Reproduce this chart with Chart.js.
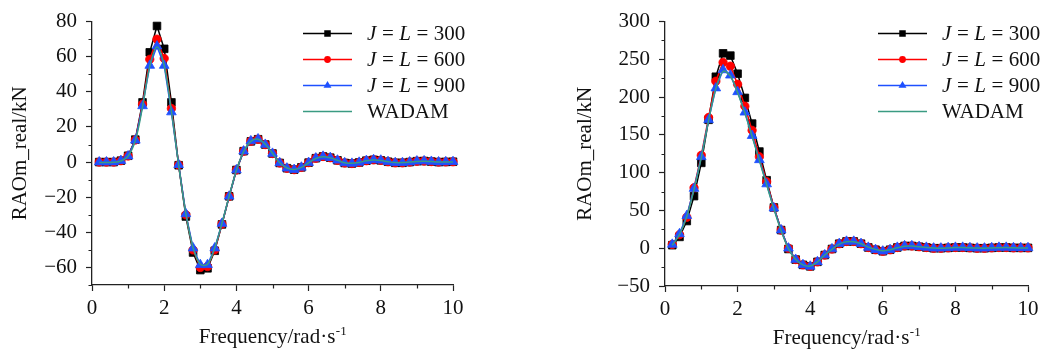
<!DOCTYPE html>
<html><head><meta charset="utf-8">
<script src="https://cdn.jsdelivr.net/npm/chart.js@4.4.0/dist/chart.umd.min.js"></script>
<style>
html,body{margin:0;padding:0;background:#fff;}
#wrap{position:relative;width:1047px;height:349px;overflow:hidden;}
.box{position:absolute;top:0;height:349px;}
#b1{left:0;width:523px;}
#b2{left:523px;width:524px;}
</style></head><body>
<div id="wrap">
  <div class="box" id="b1"><canvas id="c1"></canvas></div>
  <div class="box" id="b2"><canvas id="c2"></canvas></div>
</div>
<script>
// ---------- data ----------
const freq = [0.2,0.4,0.6,0.8,1.0,1.2,1.4,1.6,1.8,2.0,2.2,2.4,2.6,2.8,3.0,3.2,3.4,3.6,3.8,4.0,
  4.2,4.4,4.6,4.8,5.0,5.2,5.4,5.6,5.8,6.0,6.2,6.4,6.6,6.8,7.0,7.2,7.4,7.6,7.8,8.0,
  8.2,8.4,8.6,8.8,9.0,9.2,9.4,9.6,9.8,10.0];

const seriesLabels = ['J = L = 300', 'J = L = 600', 'J = L = 900', 'WADAM'];

// left panel
const leftJ300 = [0,0,0,0.8,3.6,12.8,34,62.5,77.5,64.5,34,-1.8,-31,-51.5,-61.5,-60.5,-50.5,-35.5,-19.5,-4.5,
  6.2,11.8,13,10,4.9,-0.5,-3.5,-4.3,-3,-0.3,2.2,3.2,2.5,1,-0.5,-0.8,-0.2,0.8,1.3,1,
  0.2,-0.4,-0.4,0,0.5,0.6,0.3,0,0.1,0.2];
const leftJ600 = [0,0,0,0.8,3.5,12.6,33,58.5,70,59,30.5,-1.6,-30,-50,-60,-59.5,-50,-35.3,-19.5,-4.5,
  6.2,11.9,13,10,4.9,-0.5,-3.5,-4.3,-3,-0.3,2.2,3.2,2.5,1,-0.5,-0.8,-0.2,0.8,1.3,1,
  0.2,-0.4,-0.4,0,0.5,0.6,0.3,0,0.1,0.2];
const leftJ900 = [0,0,0,0.8,3.4,12.4,32,55,66,55,28.5,-1.5,-29.5,-49,-58.5,-58.5,-49,-35,-19.5,-4.5,
  6.2,12,13.1,10,4.9,-0.5,-3.5,-4.3,-3,-0.3,2.2,3.2,2.5,1,-0.5,-0.8,-0.2,0.8,1.3,1,
  0.2,-0.4,-0.4,0,0.5,0.6,0.3,0,0.1,0.2];
const leftWADAM = [-0.2,-0.2,-0.1,0.6,3.3,12.2,31.5,54.5,65.5,55,28.8,-1.5,-29.3,-48.8,-58.2,-58.2,-48.8,-34.8,-19.3,-4.6,
  6,11.8,13,10.2,5,-0.4,-3.4,-4.2,-3,-0.4,2,3,2.4,1,-0.4,-0.7,-0.2,0.7,1.2,0.9,
  0.2,-0.3,-0.3,0,0.4,0.5,0.3,0.1,0.1,0.1];

// right panel
const rightJ300 = [4,15,36,69,113,170,227,258,255,231,199,165,128,90,54,24,-1,-15,-22,-24,
  -18,-9,-1,6,9,9,6,1,-2,-4,-2,1,3,3,2,1,0,0,0.5,1,
  1,0.5,0,0,0.5,1,1,0.5,0.5,0.5];
const rightJ600 = [5,18,41,80,123,173,221,246,241,217,188,156,121,88,54,24,0,-15,-22,-24,
  -18,-9,-1,6,9,9,6,1,-2,-4,-2,1,3,3,2,1,0,0,0.5,1,
  1,0.5,0,0,0.5,1,1,0.5,0.5,0.5];
const rightJ900 = [5,19,43,79,121,170,212,236,229,207,180,149,117,85,53,24,0,-15,-22,-24,
  -18,-9,-1,6,9,9,6,1,-2,-4,-2,1,3,3,2,1,0,0,0.5,1,
  1,0.5,0,0,0.5,1,1,0.5,0.5,0.5];
const rightWADAM = [4,18,42,78,120,169,211,234,228,206,179,148,116,84,52,23,-0.5,-15,-22,-23.5,
  -18,-9,-1.5,5.5,8.5,8.5,6,1.5,-1.5,-3.5,-2,0.5,2.5,3,2,1,0.3,0,0.3,0.8,
  0.8,0.5,0.2,0.1,0.4,0.7,0.8,0.5,0.4,0.4];

// ticks
const xTicks = [0,2,4,6,8,10];
const xMinorTicks = [1,3,5,7,9];
const leftYTicks = [-60,-40,-20,0,20,40,60,80];
const leftYMinor = [-70,-50,-30,-10,10,30,50,70];
const rightYTicks = [-50,0,50,100,150,200,250,300];
const rightYMinor = [-25,25,75,125,175,225,275];

const xTitle = 'Frequency/rad\u00B7s';
const xTitleSup = '-1';
const yTitle = 'RAOm_real/kN';

// ---------- styling ----------
const FONT = '"Liberation Serif", "Times New Roman", serif';
const AX = '#222';
const styles = [
  {color:'#000000', pointStyle:'rect', r:5.4, lr:4.6, order:3},
  {color:'#ff0000', pointStyle:'circle', r:4.2, lr:3.4, order:2},
  {color:'#1e50ff', pointStyle:'triangle', r:5.6, lr:4.6, order:1},
  {color:'#3a9b82', pointStyle:false, r:0, lr:0, order:0}
];

function makeDatasets(arrs) {
  return arrs.map((ys, i) => {
    const s = styles[i];
    return {
      label: seriesLabels[i],
      data: freq.map((f, k) => ({x: f, y: ys[k]})),
      borderColor: s.color,
      backgroundColor: s.color,
      borderWidth: 1.5,
      pointStyle: s.pointStyle,
      pointRadius: s.r,
      pointHoverRadius: s.r,
      pointBorderWidth: 0.8,
      pointBorderColor: s.color,
      pointBackgroundColor: s.color,
      legendRadius: s.lr,
      tension: i === 3 ? 0.35 : 0,
      order: s.order,
      clip: false
    };
  });
}

function drawMarker(ctx, style, r, x, y, color) {
  ctx.fillStyle = color;
  ctx.beginPath();
  if (style === 'rect') {
    const s = r * Math.SQRT1_2;
    ctx.rect(x - s, y - s, 2 * s, 2 * s);
  } else if (style === 'circle') {
    ctx.arc(x, y, r, 0, Math.PI * 2);
  } else if (style === 'triangle') {
    ctx.moveTo(x, y - r);
    ctx.lineTo(x + r * Math.sin(2 * Math.PI / 3), y - r * Math.cos(2 * Math.PI / 3));
    ctx.lineTo(x + r * Math.sin(4 * Math.PI / 3), y - r * Math.cos(4 * Math.PI / 3));
    ctx.closePath();
  } else return;
  ctx.fill();
}

const decor = {
  id: 'decor',
  afterDraw(chart, args, o) {
    const {ctx, chartArea: a} = chart;
    const xs = chart.scales.x, ys = chart.scales.y;
    ctx.save();
    // minor ticks
    ctx.strokeStyle = AX; ctx.lineWidth = 1.2;
    ctx.beginPath();
    o.xMinor.forEach(v => { const p = Math.round(xs.getPixelForValue(v)) + 0.5; ctx.moveTo(p, a.bottom); ctx.lineTo(p, a.bottom + 3.5); });
    o.yMinor.forEach(v => { const p = Math.round(ys.getPixelForValue(v)) + 0.5; ctx.moveTo(a.left, p); ctx.lineTo(a.left - 3.5, p); });
    ctx.stroke();

    // x title with superscript
    ctx.fillStyle = '#111';
    ctx.textBaseline = 'alphabetic';
    ctx.textAlign = 'left';
    ctx.font = '21px ' + FONT;
    const w1 = ctx.measureText(xTitle).width;
    ctx.font = '13px ' + FONT;
    const w2 = ctx.measureText(xTitleSup).width;
    const cx = (a.left + a.right) / 2 + o.xTitleShift;
    const bx = cx - (w1 + w2) / 2;
    const by = a.bottom + 58;
    ctx.font = '21px ' + FONT;
    ctx.fillText(xTitle, bx, by);
    ctx.font = '13px ' + FONT;
    ctx.fillText(xTitleSup, bx + w1 + 0.5, by - 8);

    // y title (rotated)
    ctx.save();
    ctx.translate(a.left + o.yTitleOffset, (a.top + a.bottom) / 2);
    ctx.rotate(-Math.PI / 2);
    ctx.font = '21px ' + FONT;
    ctx.textAlign = 'center';
    ctx.fillText(yTitle, 0, 0);
    ctx.restore();

    // legend
    chart.data.datasets.forEach((ds, i) => {
      const yy = 33 + i * 26;
      const x0 = a.right - 150, x1 = a.right - 101;
      ctx.strokeStyle = ds.borderColor; ctx.lineWidth = 1.6;
      ctx.beginPath(); ctx.moveTo(x0, yy + 0.5); ctx.lineTo(x1, yy + 0.5); ctx.stroke();
      drawMarker(ctx, ds.pointStyle, ds.legendRadius, (x0 + x1) / 2, yy + 0.5, ds.borderColor);
      // text with italic J / L
      let tx = a.right - 86;
      ctx.fillStyle = '#111';
      ctx.textAlign = 'left';
      ctx.textBaseline = 'middle';
      ds.label.split(/([JL])/).filter(s => s.length).forEach(part => {
        const it = (part === 'J' || part === 'L');
        ctx.font = (it ? 'italic ' : '') + '21px ' + FONT;
        ctx.fillText(part, tx, yy + 1);
        tx += ctx.measureText(part).width + (it ? 0.5 : 0);
      });
    });
    ctx.restore();
  }
};

function makeChart(id, arrs, cfg) {
  return new Chart(document.getElementById(id), {
    type: 'line',
    data: {datasets: makeDatasets(arrs)},
    plugins: [decor],
    options: {
      responsive: true,
      maintainAspectRatio: false,
      animation: false,
      events: [],
      layout: {padding: cfg.padding},
      plugins: {
        legend: {display: false},
        tooltip: {enabled: false},
        decor: {xMinor: xMinorTicks, yMinor: cfg.yMinor, yTitleOffset: cfg.yTitleOffset, xTitleShift: 0}
      },
      scales: {
        x: {
          type: 'linear', min: 0, max: 10,
          afterBuildTicks: s => { s.ticks = xTicks.map(v => ({value: v})); },
          afterFit: s => { s.height = cfg.xHeight; },
          grid: {display: true, drawOnChartArea: false, drawTicks: true, tickLength: 6, tickColor: AX, tickWidth: 1.2},
          border: {display: true, color: AX, width: 1.3},
          ticks: {font: {family: FONT, size: 21}, color: '#111', padding: 5, maxRotation: 0}
        },
        y: {
          type: 'linear', min: cfg.yMin, max: cfg.yMax,
          afterBuildTicks: s => { s.ticks = cfg.yTicks.map(v => ({value: v})); },
          afterFit: s => { s.width = cfg.yWidth; },
          grid: {display: true, drawOnChartArea: false, drawTicks: true, tickLength: 6, tickColor: AX, tickWidth: 1.2},
          border: {display: true, color: AX, width: 1.3},
          ticks: {font: {family: FONT, size: 21}, color: '#111', padding: 9,
            callback: v => (v < 0 ? '\u2212' + Math.abs(v) : String(v))}
        }
      }
    }
  });
}

makeChart('c1', [leftJ300, leftJ600, leftJ900, leftWADAM], {
  padding: {top: 20, right: 70, left: 0, bottom: 0},
  xHeight: 64, yWidth: 92, yMin: -70, yMax: 80,
  yTicks: leftYTicks, yMinor: leftYMinor, yTitleOffset: -66
});
makeChart('c2', [rightJ300, rightJ600, rightJ900, rightWADAM], {
  padding: {top: 18, right: 19, left: 0, bottom: 0},
  xHeight: 63, yWidth: 142, yMin: -50, yMax: 300,
  yTicks: rightYTicks, yMinor: rightYMinor, yTitleOffset: -74
});
</script>
</body></html>
